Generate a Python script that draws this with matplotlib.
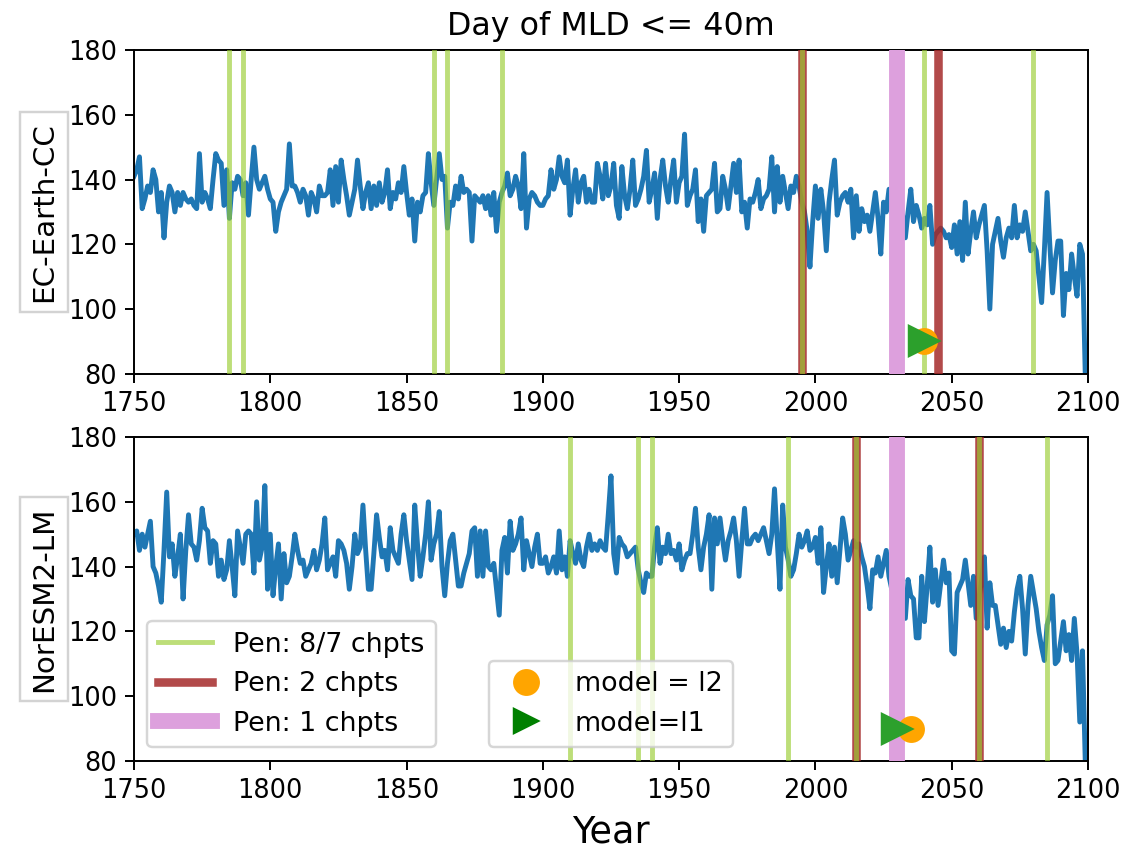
import numpy as np
import matplotlib
matplotlib.use("Agg")
import matplotlib.pyplot as plt
from matplotlib.lines import Line2D

# --- day of MLD <= 40m, one value per year from 1750 ---
ec_earth = [
    141, 143, 147, 131, 134, 138, 136, 143, 140, 130,
    136, 122, 133, 138, 136, 130, 136, 132, 136, 134,
    133, 134, 132, 131, 148, 133, 136, 134, 131, 140,
    148, 146, 145, 132, 143, 128, 139, 137, 141, 140,
    135, 139, 129, 140, 150, 140, 137, 139, 141, 137,
    134, 133, 124, 130, 133, 135, 137, 151, 138, 138,
    136, 133, 137, 135, 129, 136, 134, 130, 138, 135,
    135, 136, 143, 132, 144, 133, 146, 140, 135, 129,
    133, 137, 146, 138, 131, 136, 139, 131, 138, 132,
    139, 133, 136, 143, 131, 136, 134, 139, 136, 144,
    136, 129, 134, 121, 133, 130, 135, 136, 148, 139,
    132, 140, 148, 140, 141, 125, 133, 132, 138, 134,
    141, 136, 137, 136, 121, 135, 134, 133, 135, 131,
    135, 129, 136, 124, 133, 136, 138, 142, 135, 137,
    141, 138, 131, 148, 125, 134, 136, 135, 133, 132,
    132, 134, 135, 143, 137, 140, 147, 141, 139, 146,
    129, 137, 143, 133, 139, 141, 133, 137, 133, 133,
    145, 141, 134, 145, 135, 138, 145, 132, 128, 144,
    135, 131, 137, 146, 132, 134, 137, 141, 149, 133,
    137, 142, 128, 140, 146, 138, 133, 140, 146, 133,
    139, 141, 154, 132, 135, 137, 143, 127, 134, 124,
    135, 136, 137, 145, 130, 131, 141, 137, 131, 138,
    145, 136, 146, 130, 133, 125, 134, 133, 136, 140,
    131, 134, 135, 137, 147, 130, 144, 133, 141, 136,
    131, 138, 136, 141, 138, 133, 130, 124, 113, 127,
    138, 128, 137, 130, 118, 133, 140, 146, 129, 133,
    135, 136, 133, 137, 122, 135, 124, 131, 127, 129,
    124, 130, 136, 128, 117, 133, 130, 137, 131, 128,
    133, 127, 129, 122, 130, 137, 127, 132, 129, 125,
    128, 126, 132, 120, 123, 124, 125, 124, 122, 123,
    119, 126, 117, 127, 115, 133, 117, 124, 130, 122,
    126, 129, 132, 118, 100, 120, 124, 128, 121, 116,
    122, 125, 122, 132, 122, 126, 124, 130, 124, 118,
    120, 118, 110, 102, 118, 136, 120, 105, 115, 121,
    121, 98, 111, 106, 117, 110, 104, 120, 117, 80,
]

noresm = [
    150, 151, 145, 150, 146, 150, 154, 140, 138, 134,
    129, 145, 163, 143, 147, 137, 143, 150, 130, 145,
    156, 147, 146, 142, 148, 158, 152, 151, 141, 148,
    147, 137, 142, 136, 139, 148, 140, 131, 151, 146,
    141, 150, 151, 150, 138, 160, 142, 146, 165, 133,
    150, 131, 140, 147, 130, 144, 135, 137, 143, 150,
    145, 141, 142, 137, 139, 141, 145, 139, 142, 147,
    155, 139, 141, 143, 137, 148, 147, 145, 141, 133,
    140, 150, 144, 146, 159, 145, 133, 133, 144, 156,
    149, 143, 145, 139, 152, 145, 143, 141, 150, 156,
    148, 142, 136, 159, 147, 137, 143, 150, 160, 142,
    147, 150, 157, 140, 131, 141, 148, 150, 142, 134,
    134, 138, 141, 144, 151, 152, 137, 151, 137, 151,
    140, 139, 141, 133, 125, 145, 149, 138, 154, 145,
    147, 150, 155, 139, 148, 144, 140, 146, 150, 141,
    141, 143, 138, 140, 143, 138, 151, 139, 143, 137,
    148, 144, 141, 147, 142, 140, 146, 150, 145, 147,
    145, 148, 146, 145, 156, 168, 144, 138, 149, 147,
    146, 143, 144, 145, 146, 139, 135, 132, 138, 137,
    137, 146, 152, 141, 146, 144, 150, 144, 145, 142,
    147, 139, 142, 144, 144, 150, 158, 146, 139, 146,
    150, 156, 133, 155, 147, 155, 148, 142, 148, 151,
    155, 148, 137, 148, 158, 147, 147, 149, 150, 148,
    150, 152, 148, 144, 150, 164, 148, 133, 159, 146,
    142, 137, 139, 144, 150, 146, 148, 151, 145, 146,
    149, 141, 152, 132, 140, 147, 137, 146, 135, 145,
    155, 150, 142, 145, 148, 146, 147, 143, 140, 134,
    127, 139, 138, 143, 137, 141, 145, 137, 133, 131,
    129, 128, 126, 124, 136, 131, 130, 118, 118, 137,
    123, 134, 146, 129, 139, 128, 135, 142, 135, 138,
    114, 113, 132, 134, 136, 142, 135, 128, 137, 124,
    130, 136, 143, 121, 135, 128, 128, 122, 116, 121,
    115, 120, 117, 126, 133, 137, 127, 113, 128, 137,
    132, 127, 120, 115, 111, 122, 125, 131, 110, 111,
    117, 123, 114, 119, 111, 124, 113, 92, 114, 80,
]

models = ["EC-Earth-CC", "NorESM2-LM"]

# changepoint years per model
pen87_years = [[1785, 1790, 1860, 1865, 1885, 1995, 2040, 2080],
               [1910, 1935, 1940, 1990, 2015, 2060, 2085]]
pen2_years = [[1995, 2045], [2015, 2060]]
pen1_years = [[2030], [2030]]
l2_years = [2040, 2035]
l1_years = [2040, 2030]
marker_y = 90

c_87 = "yellowgreen"
c_2 = "brown"
c_1 = "plum"

fig, axes = plt.subplots(2, 1, figsize=(1128 / 176, 854 / 176), dpi=176)
fig.subplots_adjust(left=0.1188, right=0.9645, top=0.9415, bottom=0.109, hspace=0.195)

series = [ec_earth, noresm]
for i, ax in enumerate(axes):
    vals = np.array(series[i])
    yrs = np.arange(1750, 1750 + len(vals))
    ax.plot(yrs, vals, color="tab:blue", lw=2, zorder=2)
    for y in pen2_years[i]:
        ax.axvline(y, color=c_2, lw=3.5, alpha=0.85, zorder=3)
    for y in pen87_years[i]:
        ax.axvline(y, color=c_87, lw=2, alpha=0.65, zorder=3)
    for y in pen1_years[i]:
        ax.axvline(y, color=c_1, lw=6.5, zorder=3)
    ax.plot(l2_years[i], marker_y, "o", color="orange", ms=10, zorder=4)
    ax.plot(l1_years[i], marker_y, ">", color="tab:green", ms=12, zorder=5)
    ax.set_xlim(1750, 2100)
    ax.set_ylim(80, 180)
    ax.set_yticks(np.arange(80, 181, 20))
    ax.tick_params(labelsize=10.5)
    ax.set_ylabel(models[i], fontsize=12,
                  bbox=dict(facecolor="white", edgecolor="lightgray"))

axes[0].set_title("Day of MLD <= 40m", fontsize=13)
axes[1].set_xlabel("Year", fontsize=15)

h1 = [Line2D([], [], color=c_87, lw=2, alpha=0.65),
      Line2D([], [], color=c_2, lw=3.5, alpha=0.85),
      Line2D([], [], color=c_1, lw=6.5)]
leg1 = axes[1].legend(h1, ["Pen: 8/7 chpts", "Pen: 2 chpts", "Pen: 1 chpts"],
                      loc="lower left", fontsize=11)
axes[1].add_artist(leg1)
h2 = [Line2D([], [], ls="none", marker="o", color="orange", ms=10),
      Line2D([], [], ls="none", marker=">", color="green", ms=10)]
axes[1].legend(h2, ["model = l2", "model=l1"], loc="lower center", fontsize=11)

plt.savefig("out.png", dpi=176)
